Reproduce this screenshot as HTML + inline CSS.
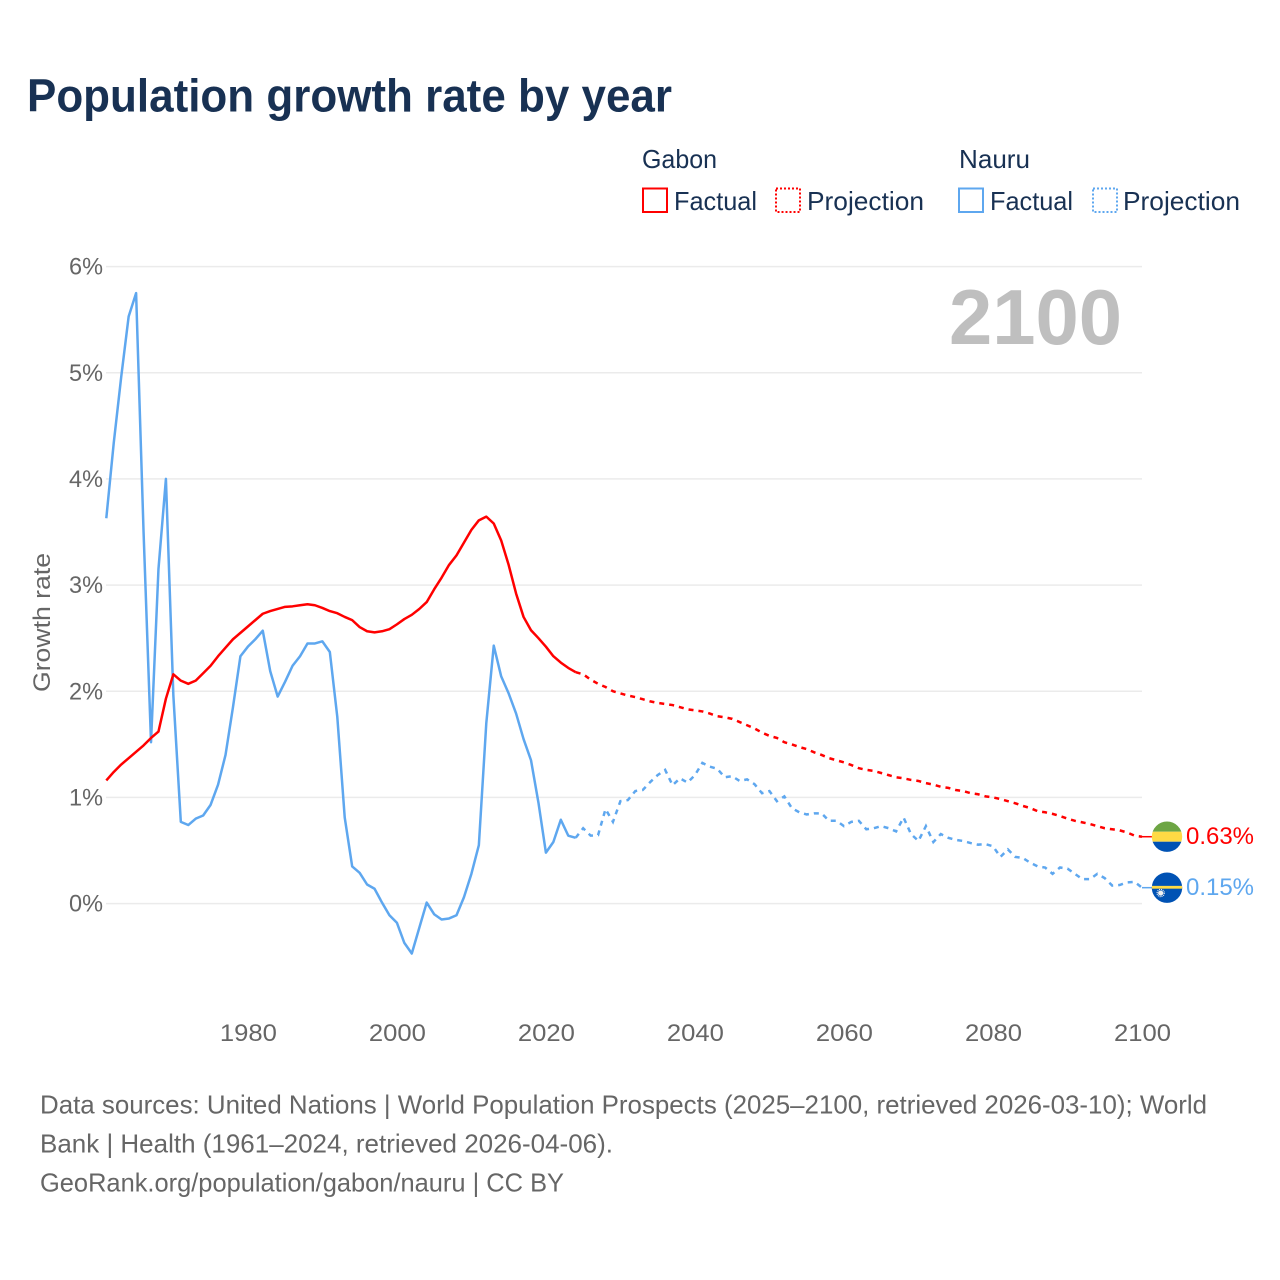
<!DOCTYPE html>
<html lang="en">
<head>
<meta charset="utf-8">
<title>Population growth rate by year</title>
<style>
html,body{margin:0;padding:0;background:#fff;}
svg{display:block;font-family:"Liberation Sans",sans-serif;}
</style>
</head>
<body>
<svg id="chart" xmlns="http://www.w3.org/2000/svg" width="1280" height="1280" viewBox="0 0 1280 1280">
  <rect x="0" y="0" width="1280" height="1280" fill="#ffffff"/>
  <text x="27" y="111.5" font-size="46" font-weight="700" fill="#183153" textLength="645" lengthAdjust="spacingAndGlyphs">Population growth rate by year</text>

  <g font-size="26" fill="#183153">
    <text x="642" y="168" textLength="75" lengthAdjust="spacingAndGlyphs">Gabon</text>
    <text x="959" y="168" textLength="71" lengthAdjust="spacingAndGlyphs">Nauru</text>
    <g>
      <rect x="643" y="188.5" width="24" height="23.5" fill="none" stroke="#ff0000" stroke-width="2"/>
      <text x="674" y="210" textLength="83" lengthAdjust="spacingAndGlyphs">Factual</text>
    </g>
    <g>
      <rect x="776" y="188.5" width="24" height="23.5" fill="none" stroke="#ff0000" stroke-width="2" stroke-dasharray="2 2"/>
      <text x="807" y="210" textLength="117" lengthAdjust="spacingAndGlyphs">Projection</text>
    </g>
    <g>
      <rect x="959" y="188.5" width="24" height="23.5" fill="none" stroke="#5ea7ef" stroke-width="2"/>
      <text x="990" y="210" textLength="83" lengthAdjust="spacingAndGlyphs">Factual</text>
    </g>
    <g>
      <rect x="1093" y="188.5" width="24" height="23.5" fill="none" stroke="#5ea7ef" stroke-width="2" stroke-dasharray="2 2"/>
      <text x="1123" y="210" textLength="117" lengthAdjust="spacingAndGlyphs">Projection</text>
    </g>
  </g>

  <g id="grid"></g>
  <g id="y-axis"></g>
  <g id="x-axis"></g>

  <text transform="translate(50 692) rotate(-90)" x="0" y="0" font-size="24" fill="#666666" textLength="139" lengthAdjust="spacingAndGlyphs">Growth rate</text>

  <text x="949" y="344" font-size="78" font-weight="700" fill="#bfbfbf" textLength="173" lengthAdjust="spacingAndGlyphs">2100</text>

  <g id="series"></g>
  <g id="end-labels"></g>

  <g font-size="26" fill="#666666">
    <text x="40" y="1113.5" textLength="1167" lengthAdjust="spacingAndGlyphs">Data sources: United Nations | World Population Prospects (2025–2100, retrieved 2026-03-10); World</text>
    <text x="40" y="1152.5" textLength="573" lengthAdjust="spacingAndGlyphs">Bank | Health (1961–2024, retrieved 2026-04-06).</text>
    <text x="40" y="1191.5" textLength="524" lengthAdjust="spacingAndGlyphs">GeoRank.org/population/gabon/nauru | CC BY</text>
  </g>
</svg>

<script>
var yTicks = [0, 1, 2, 3, 4, 5, 6];
var xTicks = [1980, 2000, 2020, 2040, 2060, 2080, 2100];
var factualStartYear = 1961;
var projectionStartYear = 2024;

var gabonFactual = [
  1.16,1.24,1.31,1.37,1.43,1.49,1.56,1.62,1.93,2.16,
  2.10,2.07,2.10,2.17,2.24,2.33,2.41,2.49,2.55,2.61,
  2.67,2.73,2.755,2.775,2.795,2.80,2.81,2.82,2.81,2.785,
  2.755,2.735,2.70,2.67,2.605,2.565,2.555,2.565,2.585,2.63,
  2.68,2.72,2.775,2.84,2.96,3.07,3.19,3.28,3.40,3.52,
  3.61,3.645,3.58,3.42,3.19,2.92,2.70,2.575,2.50,2.42,
  2.33,2.27,2.22,2.18
];
var gabonProjection = [
  2.18,2.16,2.11,2.07,2.04,2.00,
  1.98,1.96,1.945,1.925,1.905,1.89,1.88,1.87,1.85,1.83,
  1.82,1.81,1.79,1.765,1.755,1.74,1.71,1.68,1.65,1.61,
  1.58,1.56,1.52,1.50,1.475,1.455,1.425,1.40,1.37,1.35,
  1.33,1.305,1.275,1.26,1.25,1.23,1.21,1.19,1.18,1.165,
  1.155,1.135,1.12,1.10,1.09,1.07,1.06,1.04,1.03,1.01,
  1.00,0.985,0.965,0.945,0.92,0.90,0.87,0.86,0.845,0.825,
  0.80,0.78,0.765,0.75,0.73,0.71,0.70,0.69,0.67,0.64,
  0.63
];
var nauruFactual = [
  3.63,4.34,4.96,5.53,5.75,3.50,1.52,3.15,4.00,1.96,
  0.77,0.74,0.80,0.83,0.93,1.12,1.40,1.85,2.33,2.42,
  2.49,2.57,2.19,1.95,2.09,2.24,2.33,2.45,2.45,2.47,
  2.37,1.76,0.81,0.35,0.29,0.18,0.14,0.01,-0.11,-0.18,
  -0.37,-0.47,-0.23,0.01,-0.10,-0.15,-0.14,-0.11,0.06,0.28,
  0.55,1.70,2.43,2.14,1.98,1.79,1.55,1.35,0.95,0.48,
  0.58,0.79,0.64,0.62
];
var nauruProjection = [
  0.62,0.71,0.64,0.645,0.89,0.77,
  0.965,0.975,1.06,1.07,1.145,1.21,1.26,1.115,1.18,1.14,
  1.21,1.325,1.29,1.27,1.19,1.20,1.155,1.17,1.125,1.04,
  1.06,0.965,1.01,0.90,0.86,0.84,0.85,0.85,0.78,0.78,
  0.73,0.77,0.78,0.70,0.71,0.73,0.71,0.68,0.81,0.655,
  0.59,0.73,0.58,0.655,0.62,0.60,0.59,0.57,0.555,0.56,
  0.54,0.44,0.51,0.44,0.43,0.385,0.35,0.34,0.28,0.34,
  0.33,0.28,0.23,0.23,0.28,0.24,0.17,0.175,0.20,0.205,
  0.15
];

var SVG_NS = 'http://www.w3.org/2000/svg';
var RED = '#ff0000';
var BLUE = '#5ea7ef';

function xScale(year) {
  return 106.3 + (year - 1961) * 7.451;
}
function yScale(value) {
  return 903.6 - value * 106.17;
}
function pathFrom(values, startYear) {
  var d = '';
  for (var i = 0; i < values.length; i++) {
    d += (i ? 'L' : 'M') + xScale(startYear + i).toFixed(2) + ' ' + yScale(values[i]).toFixed(2);
  }
  return d;
}

var gridGroup = document.getElementById('grid');
var yAxisGroup = document.getElementById('y-axis');
var xAxisGroup = document.getElementById('x-axis');
var seriesGroup = document.getElementById('series');
var endGroup = document.getElementById('end-labels');

yTicks.forEach(function (t) {
  var line = document.createElementNS(SVG_NS, 'line');
  
  
  line.setAttribute('x1', 106);
  line.setAttribute('x2', 1142);
  line.setAttribute('y1', yScale(t));
  line.setAttribute('y2', yScale(t));
  line.setAttribute('stroke', '#ebebeb');
  line.setAttribute('stroke-width', '1.5');
  gridGroup.appendChild(line);

  var label = document.createElementNS(SVG_NS, 'text');
  
  
  label.setAttribute('x', 69);
  label.setAttribute('y', yScale(t) + 8);
  label.setAttribute('font-size', '24');
  label.setAttribute('fill', '#666666');
  label.setAttribute('textLength', '34');
  label.setAttribute('lengthAdjust', 'spacingAndGlyphs');
  label.textContent = t + '%';
  yAxisGroup.appendChild(label);
});

xTicks.forEach(function (t) {
  var label = document.createElementNS(SVG_NS, 'text');
  
  
  label.setAttribute('x', xScale(t) - 28);
  label.setAttribute('y', 1041);
  label.setAttribute('font-size', '24');
  label.setAttribute('fill', '#666666');
  label.setAttribute('textLength', '57');
  label.setAttribute('lengthAdjust', 'spacingAndGlyphs');
  label.textContent = t;
  xAxisGroup.appendChild(label);
});

function addFactual(values, color, name) {
  var p = document.createElementNS(SVG_NS, 'path');
  
  
  p.setAttribute('d', pathFrom(values, factualStartYear));
  p.setAttribute('fill', 'none');
  p.setAttribute('stroke', color);
  p.setAttribute('stroke-width', '2.5');
  p.setAttribute('stroke-linejoin', 'round');
  seriesGroup.appendChild(p);
}
function addProjection(values, color, name) {
  var p = document.createElementNS(SVG_NS, 'path');
  
  
  p.setAttribute('d', pathFrom(values, projectionStartYear));
  p.setAttribute('fill', 'none');
  p.setAttribute('stroke', color);
  p.setAttribute('stroke-width', '2.5');
  p.setAttribute('stroke-dasharray', '5 5');
  seriesGroup.appendChild(p);
}
addFactual(nauruFactual, BLUE, 'nauru-factual-line');
addProjection(nauruProjection, BLUE, 'nauru-projection-line');
addFactual(gabonFactual, RED, 'gabon-factual-line');
addProjection(gabonProjection, RED, 'gabon-projection-line');

function addEnd(value, color, prefix, drawFlag) {
  var y = yScale(value);
  var stub = document.createElementNS(SVG_NS, 'line');
  
  
  stub.setAttribute('x1', xScale(2100));
  stub.setAttribute('x2', 1153);
  stub.setAttribute('y1', y);
  stub.setAttribute('y2', y);
  stub.setAttribute('stroke', color);
  stub.setAttribute('stroke-width', '1.5');
  endGroup.appendChild(stub);

  var flag = document.createElementNS(SVG_NS, 'g');
  
  
  flag.setAttribute('transform', 'translate(1167 ' + y.toFixed(2) + ')');
  drawFlag(flag);
  endGroup.appendChild(flag);

  var label = document.createElementNS(SVG_NS, 'text');
  
  
  label.setAttribute('x', 1186);
  label.setAttribute('y', y + 7.5);
  label.setAttribute('font-size', '24');
  label.setAttribute('fill', color);
  label.setAttribute('textLength', '68');
  label.setAttribute('lengthAdjust', 'spacingAndGlyphs');
  label.textContent = value.toFixed(2) + '%';
  endGroup.appendChild(label);
}
function clippedFlag(flag, id, parts) {
  var defs = document.createElementNS(SVG_NS, 'clipPath');
  defs.setAttribute('id', id);
  var c = document.createElementNS(SVG_NS, 'circle');
  c.setAttribute('r', '15.2');
  defs.appendChild(c);
  flag.appendChild(defs);
  parts.forEach(function (part) {
    var r = document.createElementNS(SVG_NS, 'rect');
    r.setAttribute('x', -16);
    r.setAttribute('width', 32);
    r.setAttribute('y', part[0]);
    r.setAttribute('height', part[1]);
    r.setAttribute('fill', part[2]);
    r.setAttribute('clip-path', 'url(#' + id + ')');
    flag.appendChild(r);
  });
}
addEnd(gabonProjection[gabonProjection.length - 1], RED, 'gabon', function (flag) {
  clippedFlag(flag, 'clip-gabon', [[-16, 11, '#6da544'], [-5, 10, '#ffda44'], [5, 11, '#0052b4']]);
});
addEnd(nauruProjection[nauruProjection.length - 1], BLUE, 'nauru', function (flag) {
  clippedFlag(flag, 'clip-nauru', [[-16, 32, '#0052b4'], [-1.8, 2.8, '#ffda44']]);
  var star = document.createElementNS(SVG_NS, 'circle');
  star.setAttribute('cx', -6.3);
  star.setAttribute('cy', 5.4);
  star.setAttribute('r', 2.6);
  star.setAttribute('fill', '#f0f0f0');
  flag.appendChild(star);
  var rays = document.createElementNS(SVG_NS, 'circle');
  rays.setAttribute('cx', -6.3);
  rays.setAttribute('cy', 5.4);
  rays.setAttribute('r', 3.6);
  rays.setAttribute('fill', 'none');
  rays.setAttribute('stroke', '#f0f0f0');
  rays.setAttribute('stroke-width', '1.2');
  rays.setAttribute('stroke-dasharray', '1 0.9');
  flag.appendChild(rays);
});
</script>
</body>
</html>
